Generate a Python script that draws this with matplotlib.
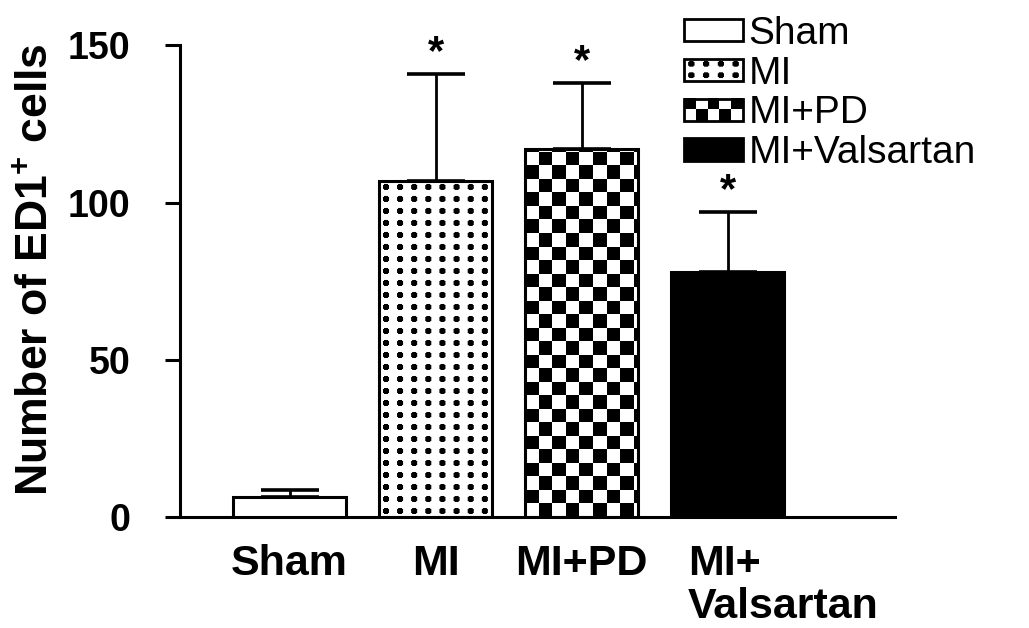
import numpy as np
import matplotlib
matplotlib.use('Agg')
import matplotlib.pyplot as plt
from matplotlib.legend_handler import HandlerBase
from matplotlib.image import BboxImage
from matplotlib.transforms import Bbox, TransformedBbox, ScaledTranslation
from matplotlib.patches import Rectangle, Patch

# ---------------- data ----------------
categories = ['Sham', 'MI', 'MI+PD', 'MI+\nValsartan']
legend_labels = ['Sham', 'MI', 'MI+PD', 'MI+Valsartan']
means = [6.5, 107, 117, 78]
errors = [2.3, 34, 21, 19]
significant = [False, True, True, True]
yticks = [0, 50, 100, 150]
fills = ['white', 'dots', 'checker', 'black']

plt.rcParams['font.family'] = ['Liberation Sans', 'DejaVu Sans']
plt.rcParams['mathtext.fontset'] = 'custom'
plt.rcParams['mathtext.rm'] = 'Liberation Sans'
plt.rcParams['mathtext.bf'] = 'Liberation Sans:bold'

fig = plt.figure(figsize=(10.29, 6.28), dpi=100)
ax = fig.add_axes([0.175, 0.176, 0.695, 0.752])
x = np.arange(len(categories))

bars = ax.bar(x, means, width=0.775, color='white', edgecolor='black',
              linewidth=2.2, zorder=3)
ax.errorbar(x, means, yerr=[np.zeros(len(means)), errors], fmt='none',
            ecolor='black', elinewidth=2.0, capsize=21, capthick=2.6, zorder=2)

ax.set_xlim(-0.75, 4.147)
ax.set_ylim(0, 150)
ax.set_yticks(yticks)
ax.set_yticklabels([str(v) for v in yticks], fontsize=27, fontweight='bold')
ax.tick_params(axis='y', direction='out', length=11, width=2.2, pad=25)
ax.tick_params(axis='x', length=0, pad=19)
ax.set_xticks(x)
ax.set_xticklabels(categories, fontsize=31, fontweight='bold', linespacing=1.1)
for lab in ax.get_xticklabels():
    lab.set_verticalalignment('top')
last = ax.get_xticklabels()[-1]
last.set_horizontalalignment('left')
last.set_multialignment('left')
last.set_transform(last.get_transform() + ScaledTranslation(-0.40, 0, fig.dpi_scale_trans))

for s in ['top', 'right']:
    ax.spines[s].set_visible(False)
for s in ['left', 'bottom']:
    ax.spines[s].set_linewidth(2.2)

ax.set_ylabel(r'Number of ED1$^{\mathbf{+}}$ cells', fontsize=32, fontweight='bold')
ax.yaxis.set_label_coords(-0.172, 0.525)


# pattern arrays
def dots_array(ncols, nrows):
    yy, xx = np.mgrid[0:12, 0:14]
    cell = np.where((xx - 6.5) ** 2 + (yy - 5.5) ** 2 <= 8.5, 0.0, 1.0)
    return np.tile(cell, (nrows, ncols))


def checker_array(ncols, nrows):
    return (np.add.outer(np.arange(nrows), np.arange(ncols)) % 2).astype(float)


fig.canvas.draw()
for bar, kind in zip(bars, fills):
    if kind == 'black':
        bar.set_facecolor('black')
        continue
    if kind == 'white':
        continue
    bar.set_facecolor('none')
    x0, y0, w, h = bar.get_x(), bar.get_y(), bar.get_width(), bar.get_height()
    p0 = ax.transData.transform((x0, y0))
    p1 = ax.transData.transform((x0 + w, y0 + h))
    wpx, hpx = p1[0] - p0[0], p1[1] - p0[1]
    if kind == 'dots':
        nc, nr = int(np.ceil(wpx / 14)), int(np.ceil(hpx / 12))
        arr = dots_array(nc, nr)
        x1 = x0 + w * (nc * 14) / wpx
        y1 = y0 + h * (nr * 12) / hpx
    else:
        nc, nr = int(np.ceil(wpx / 13.5)), int(np.ceil(hpx / 13.5))
        arr = checker_array(nc, nr)
        x1 = x0 + w * (nc * 13.5) / wpx
        y1 = y0 + h * (nr * 13.5) / hpx
    im = ax.imshow(arr, cmap='gray', vmin=0, vmax=1, extent=[x0, x1, y0, y1],
                   aspect='auto', interpolation='antialiased', zorder=2.5, origin='upper')
    im.set_clip_path(bar)
ax.set_xlim(-0.75, 4.147)
ax.set_ylim(0, 150)

for xi, m, e, sig in zip(x, means, errors, significant):
    if sig:
        ax.annotate('*', (xi, m + e), xytext=(0, 0.5), textcoords='offset points',
                    ha='center', va='bottom', fontsize=30, fontweight='bold')


# legend with image handles
class ImgHandler(HandlerBase):
    def __init__(self, kind):
        super().__init__()
        self.kind = kind

    def create_artists(self, legend, orig_handle, xdescent, ydescent, width,
                       height, fontsize, trans):
        arts = []
        if self.kind == 'dots':
            arr = dots_array(4, 2)
        elif self.kind == 'checker':
            arr = checker_array(5, 2)
        elif self.kind == 'black':
            arr = np.zeros((2, 2))
        else:
            arr = np.ones((2, 2))
        bb = TransformedBbox(Bbox.from_bounds(-xdescent, -ydescent, width, height), trans)
        im = BboxImage(bb, cmap='gray', norm=plt.Normalize(0, 1), interpolation='antialiased')
        im.set_data(arr)
        arts.append(im)
        r = Rectangle((-xdescent, -ydescent), width, height, facecolor='none',
                      edgecolor='black', lw=2.0, transform=trans)
        arts.append(r)
        return arts


handles = [Patch(label=l) for l in legend_labels]
hmap = {h: ImgHandler(k) for h, k in zip(handles, fills)}
leg = fig.legend(handles=handles, labels=legend_labels, handler_map=hmap,
                 loc='upper left', bbox_to_anchor=(0.665, 0.975), frameon=False,
                 fontsize=28, handlelength=1.5, handleheight=0.5,
                 handletextpad=0.15, labelspacing=0.1, borderpad=0, borderaxespad=0)

fig.savefig('out.png', dpi=100)
